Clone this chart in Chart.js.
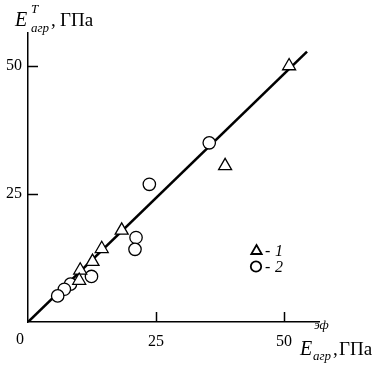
<!DOCTYPE html>
<html>
<head>
<meta charset="utf-8">
<script src="https://cdn.jsdelivr.net/npm/chart.js@4"></script>
<style>
  html, body { margin: 0; padding: 0; background: #fff; }
  #wrap { width: 384px; height: 371px; }
</style>
</head>
<body>
<div id="wrap"><canvas id="myChart"></canvas></div>
<script>
// series 1 (triangles)
const triX = [51, 38.5, 18.3, 14.4, 12.6, 10.2, 10.0];
const triY = [50.0, 30.5, 17.9, 14.3, 11.8, 10.1, 8.1];
// series 2 (circles)
const circX = [35.4, 23.7, 21.1, 20.9, 12.4, 8.3, 7.1, 5.8];
const circY = [35.0, 26.9, 16.5, 14.2, 8.9, 7.4, 6.4, 5.1];
// fitted line
const lineX = [0, 54.5];
const lineY = [0, 52.8];
const tickValues = [0, 25, 50];
const legendLabels = ["1", "2"];

const serif = "'Liberation Serif', 'Times New Roman', serif";
const toPts = (xs, ys) => xs.map((x, i) => ({ x: x, y: ys[i] }));

// E with super/subscript, then ", ГПа"
function drawAxisLabel(ctx, pos) {
  ctx.save();
  ctx.fillStyle = "#000";
  ctx.textBaseline = "alphabetic";
  ctx.textAlign = "left";
  ctx.font = "italic 20px " + serif;
  ctx.fillText("E", pos.x, pos.base);
  ctx.font = "italic 13px " + serif;
  ctx.fillText(pos.sup, pos.supX, pos.supBase);
  ctx.fillText("агр", pos.subX, pos.subBase);
  ctx.font = "19px " + serif;
  ctx.fillText(",", pos.commaX, pos.base);
  ctx.fillText("ГПа", pos.unitX, pos.base);
  ctx.restore();
}

const extras = {
  id: "extras",
  afterDraw(chart) {
    const ctx = chart.ctx;
    const xs = chart.scales.x, ys = chart.scales.y;
    const a = chart.chartArea;
    ctx.save();
    ctx.strokeStyle = "#000";
    ctx.lineWidth = 1.5;
    xs.ticks.forEach(t => {
      if (t.value === 0) return;
      const p = Math.round(xs.getPixelForValue(t.value)) + 0.5;
      ctx.beginPath(); ctx.moveTo(p, a.bottom); ctx.lineTo(p, a.bottom - 10); ctx.stroke();
    });
    ys.ticks.forEach(t => {
      if (t.value === 0) return;
      const p = Math.round(ys.getPixelForValue(t.value)) + 0.5;
      ctx.beginPath(); ctx.moveTo(a.left, p); ctx.lineTo(a.left + 10, p); ctx.stroke();
    });
    // shared origin label
    ctx.fillStyle = "#000";
    ctx.font = "16px " + serif;
    ctx.textAlign = "center";
    ctx.textBaseline = "middle";
    ctx.fillText("0", a.left - 8, a.bottom + 18);
    ctx.restore();

    drawAxisLabel(ctx, { x: 15, base: 26, sup: "T", supX: 31, supBase: 13, subX: 31, subBase: 32, commaX: 51, unitX: 60 });
    drawAxisLabel(ctx, { x: 300, base: 355, sup: "эф", supX: 314, supBase: 329, subX: 313, subBase: 360, commaX: 333, unitX: 339 });

    // legend
    const items = [
      { style: "triangle", r: 6, x: 256.5, y: 251 },
      { style: "circle", r: 5.2, x: 256, y: 266.5 }
    ];
    items.forEach((it, i) => {
      ctx.save();
      ctx.strokeStyle = "#000";
      ctx.fillStyle = "#fff";
      ctx.lineWidth = 1.8;
      Chart.helpers.drawPoint(ctx, { pointStyle: it.style, radius: it.r, rotation: 0, borderWidth: 1.8 }, it.x, it.y);
      ctx.restore();
      ctx.save();
      ctx.fillStyle = "#000";
      ctx.textBaseline = "alphabetic";
      ctx.textAlign = "left";
      ctx.font = "16px " + serif;
      ctx.fillText("-", 265, it.y + 5);
      ctx.font = "italic 16px " + serif;
      ctx.fillText(legendLabels[i], 275, it.y + 5);
      ctx.restore();
    });
  }
};

const tickFont = { family: serif, size: 16 };

new Chart(document.getElementById("myChart"), {
  type: "scatter",
  data: {
    datasets: [
      {
        label: "1",
        data: toPts(triX, triY),
        pointStyle: "triangle",
        pointRadius: 7.5,
        pointBackgroundColor: "#fff",
        pointBorderColor: "#000",
        pointBorderWidth: 1.3
      },
      {
        label: "2",
        data: toPts(circX, circY),
        pointStyle: "circle",
        pointRadius: 6.2,
        pointBackgroundColor: "#fff",
        pointBorderColor: "#000",
        pointBorderWidth: 1.3
      },
      {
        type: "line",
        label: "fit",
        data: toPts(lineX, lineY),
        borderColor: "#000",
        borderWidth: 2.6,
        pointRadius: 0,
        fill: false
      }
    ]
  },
  options: {
    responsive: true,
    maintainAspectRatio: false,
    animation: false,
    layout: { padding: { left: 0, top: 33, right: 65, bottom: 0 } },
    plugins: { legend: { display: false }, tooltip: { enabled: false } },
    scales: {
      x: {
        type: "linear",
        min: 0,
        max: 56.84,
        afterBuildTicks: s => { s.ticks = tickValues.map(v => ({ value: v })); },
        afterFit: s => { s.height = 49; },
        grid: { drawOnChartArea: false, drawTicks: false },
        border: { display: true, color: "#000", width: 1.5 },
        ticks: {
          color: "#000",
          font: tickFont,
          padding: 10,
          callback: v => (v === 0 ? "" : String(v))
        }
      },
      y: {
        type: "linear",
        min: 0,
        max: 56.45,
        afterBuildTicks: s => { s.ticks = tickValues.map(v => ({ value: v })); },
        afterFit: s => { s.width = 28; },
        grid: { drawOnChartArea: false, drawTicks: false },
        border: { display: true, color: "#000", width: 1.5 },
        ticks: {
          color: "#000",
          font: tickFont,
          padding: 6,
          callback: v => (v === 0 ? "" : String(v))
        }
      }
    }
  },
  plugins: [extras]
});
</script>
</body>
</html>
